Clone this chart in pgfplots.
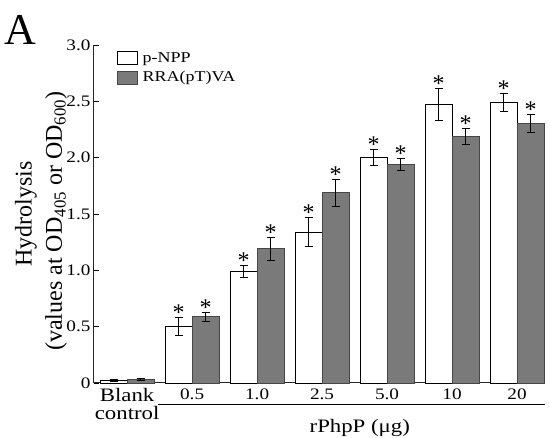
\documentclass[border=0pt]{standalone}
\usepackage{pgfplots}
\pgfplotsset{compat=1.18}
\usepackage{pgfplotstable}
\usepackage{fontspec}
\setmainfont[FakeStretch=1.2]{Liberation Serif}
\newfontfamily\plainserif{Liberation Serif}

\definecolor{bargray}{RGB}{122,122,122}
\definecolor{bargrayedge}{RGB}{70,70,70}

% x: 0 = blank control, 1..6 = 0.5, 1.0, 2.5, 5.0, 10, 20 ug rPhpP
\pgfplotstableread{
x y err
0 0.02 0.01
1 0.50 0.08
2 0.99 0.05
3 1.34 0.13
4 2.00 0.07
5 2.47 0.14
6 2.49 0.08
}\pnpp
\pgfplotstableread{
x y err
0 0.03 0.01
1 0.59 0.04
2 1.19 0.10
3 1.69 0.12
4 1.94 0.05
5 2.19 0.07
6 2.30 0.08
}\rra

\newcommand\blankfont{\fontsize{19}{23}\selectfont}

\begin{document}
\begin{tikzpicture}
\path[use as bounding box] (-94pt,-55pt) rectangle (456pt,383pt);
\begin{axis}[
scale only axis,
width=451pt, height=338pt,
xmin=-0.51, xmax=6.43,
ymin=0, ymax=3,
clip=false,
axis x line*=bottom,
axis y line*=left,
axis line style={line width=1pt, black!85},
ybar,
bar width=27pt,
xtick={0,...,6},
xticklabels={{\blankfont Blank\\\blankfont control},0.5,1.0,2.5,5.0,10,20},
xtick style={draw=none},
xticklabel style={align=center, anchor=north, yshift=-2pt},
ytick={0,0.5,1,1.5,2,2.5,3},
yticklabels={0,0.5,1.0,1.5,2.0,2.5,3.0},
ytick style={line width=0.8pt, black},
tick align=inside,
major tick length=5pt,
tick label style={font=\fontsize{16}{18}\selectfont},
legend cell align=left,
legend image code/.code={\draw[#1] (0pt,-6.5pt) rectangle (20pt,6.5pt);},
legend style={draw=none, fill=none, inner sep=0pt,
  at={(axis description cs:0.05,0.985)}, anchor=north west,
  font=\fontsize{15}{17}\selectfont, row sep=4pt,
  /tikz/every odd column/.append style={column sep=3pt}},
]
\addplot[fill=white, draw=black, line width=0.9pt, bar shift=-13.5pt,
  error bars/.cd, y dir=both, y explicit,
  error bar style={line width=0.9pt, black},
  error mark options={rotate=90, mark size=4pt, line width=0.9pt, black}]
  table[x=x, y=y, y error=err] {\pnpp};
\addlegendentry{p-NPP}
\addplot[fill=bargray, draw=bargrayedge, line width=0.9pt, bar shift=13.5pt,
  error bars/.cd, y dir=both, y explicit,
  error bar style={line width=0.9pt, black},
  error mark options={rotate=90, mark size=4pt, line width=0.9pt, black}]
  table[x=x, y=y, y error=err] {\rra};
\addlegendentry{RRA(pT)VA}

% asterisks above the upper error caps
\addplot[draw=none, fill=none, bar shift=-13.5pt, forget plot,
  nodes near coords={*},
  every node near coord/.append style={anchor=base, inner sep=0pt, yshift=-3pt,
    font=\plainserif\fontsize{24}{24}\selectfont}]
  table[x=x, y expr=\thisrow{y}+\thisrow{err}, skip coords between index={0}{1}] {\pnpp};
\addplot[draw=none, fill=none, bar shift=13.5pt, forget plot,
  nodes near coords={*},
  every node near coord/.append style={anchor=base, inner sep=0pt, yshift=-3pt,
    font=\plainserif\fontsize{24}{24}\selectfont}]
  table[x=x, y expr=\thisrow{y}+\thisrow{err}, skip coords between index={0}{1}] {\rra};

\draw[line width=1pt] ([yshift=-22pt]axis cs:0.48,0) -- ([yshift=-22pt]axis cs:6.43,0);
\node[font=\fontsize{19}{22}\selectfont] at ([yshift=-45pt]axis cs:3.58,0) {rPhpP (μg)};

\node[rotate=90, font=\plainserif\fontsize{24}{26}\selectfont]
  at ([xshift=-68pt]axis description cs:0,0.5) {Hydrolysis};
\node[rotate=90, font=\plainserif\fontsize{24}{26}\selectfont]
  at ([xshift=-38pt, yshift=-7pt]axis description cs:0,0.5)
  {(values at OD\textsubscript{405} or OD\textsubscript{600})};
\node[font=\plainserif\fontsize{44}{44}\selectfont]
  at ([xshift=-74pt, yshift=353pt]axis description cs:0,0) {A};
\end{axis}
\end{tikzpicture}
\end{document}
